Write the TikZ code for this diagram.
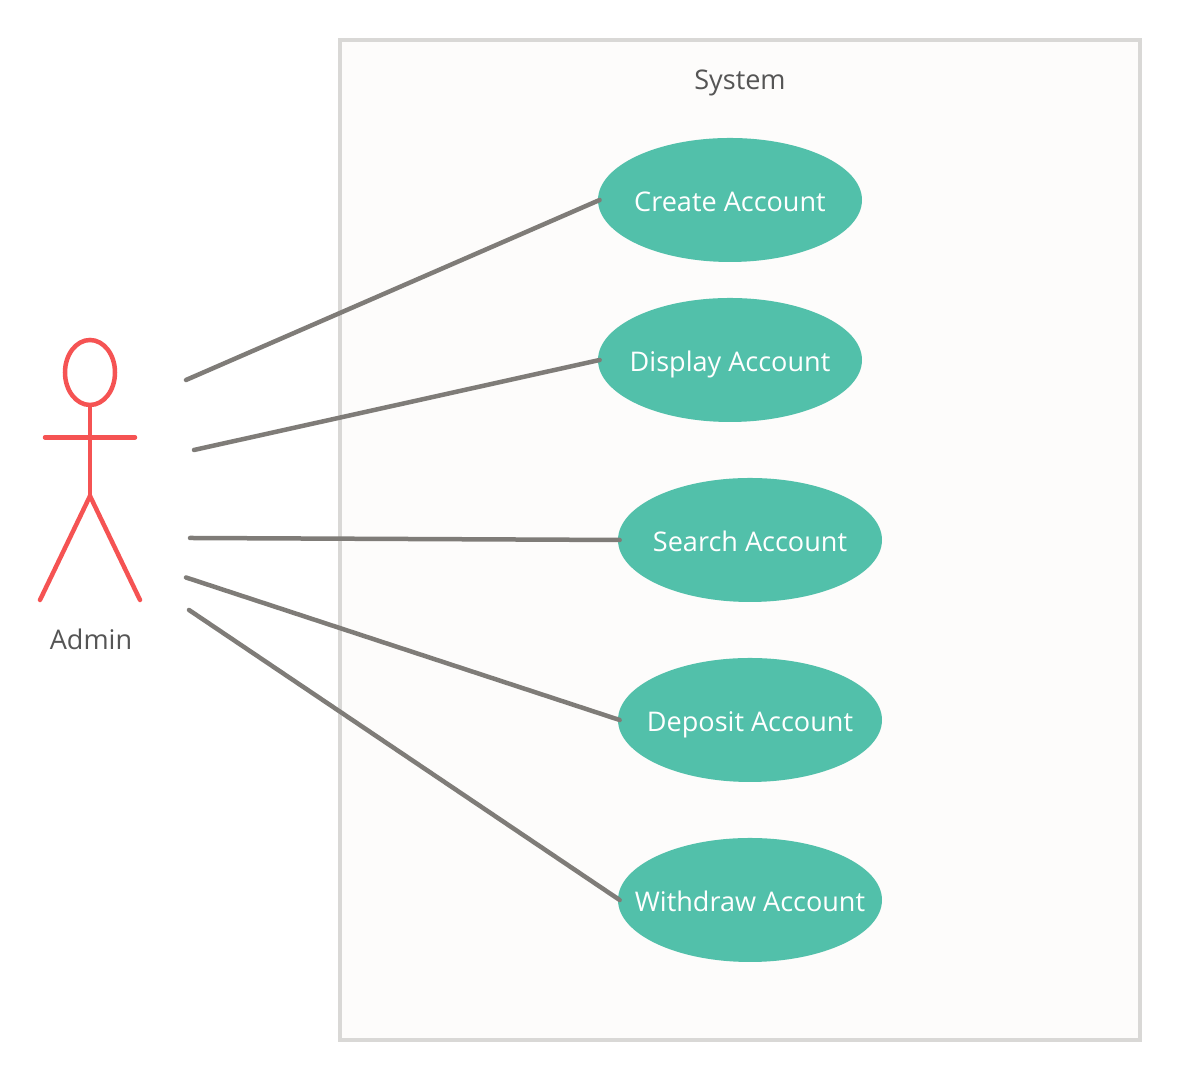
\documentclass[tikz,border=0pt]{standalone}
\usepackage{fontspec}
\setmainfont{Open Sans}
\usetikzlibrary{shapes.geometric}
\definecolor{usecasegreen}{HTML}{52C0AA}
\definecolor{actorred}{HTML}{F55353}
\definecolor{linkgray}{HTML}{7F7C78}
\definecolor{boxgray}{HTML}{D9D8D6}
\definecolor{boxfill}{HTML}{FDFCFB}
\definecolor{labelgray}{HTML}{555555}
\tikzset{
    usecase/.style={ellipse, fill=usecasegreen, text=white, inner xsep=-0.5cm, inner ysep=0pt, text height=0.5cm, text depth=0.02cm, minimum width=5.28cm, minimum height=2.48cm, font=\fontsize{15.4}{18}\selectfont},
    caption/.style={text=labelgray, text height=0.5cm, text depth=0.06cm, font=\fontsize{15.4}{18}\selectfont},
    actorline/.style={draw=actorred, line width=0.09cm, line cap=round},
    link/.style={draw=linkgray, line width=0.09cm, line cap=round}
}

\begin{document}
\begin{tikzpicture}
    \useasboundingbox (0, 0) rectangle (23.6, 21.6);

    % System box
    \node[draw=boxgray, fill=boxfill, line width=0.08cm, minimum width=16cm, minimum height=20cm, inner sep=0pt] (system) at (14.8, 10.8) {};
    \node[caption] (systemlabel) at (14.8, 20.02) {System};

    % Actor
    \node[ellipse, actorline, minimum width=1cm, minimum height=1.3cm, inner sep=0pt] (head) at (1.8, 14.15) {};
    \coordinate (handl) at (0.9, 12.85);
    \coordinate (handr) at (2.7, 12.85);
    \coordinate (hip) at (1.8, 11.68);
    \coordinate (footl) at (0.8, 9.6);
    \coordinate (footr) at (2.8, 9.6);
    \draw[actorline] (head.south) -- (hip);
    \draw[actorline] (handl) -- (handr);
    \draw[actorline] (footl) -- (hip) -- (footr);
    \node[caption] (admin) at (1.82, 8.82) {Admin};

    % Use cases
    \node[usecase] (create) at (14.6, 17.6) {Create Account};
    \node[usecase] (display) at (14.6, 14.4) {Display Account};
    \node[usecase] (search) at (15, 10.8) {Search Account};
    \node[usecase] (deposit) at (15, 7.2) {Deposit Account};
    \node[usecase] (withdraw) at (15, 3.6) {Withdraw Account};

    % Links
    \coordinate (fromcreate) at (3.72, 14);
    \coordinate (fromdisplay) at (3.88, 12.6);
    \coordinate (fromsearch) at (3.8, 10.84);
    \coordinate (fromdeposit) at (3.72, 10.05);
    \coordinate (fromwithdraw) at (3.78, 9.4);
    \draw[link] (fromcreate) -- ([xshift=0.04cm]create.west);
    \draw[link] (fromdisplay) -- ([xshift=0.04cm]display.west);
    \draw[link] (fromsearch) -- ([xshift=0.04cm]search.west);
    \draw[link] (fromdeposit) -- ([xshift=0.04cm]deposit.west);
    \draw[link] (fromwithdraw) -- ([xshift=0.04cm]withdraw.west);
\end{tikzpicture}
\end{document}
